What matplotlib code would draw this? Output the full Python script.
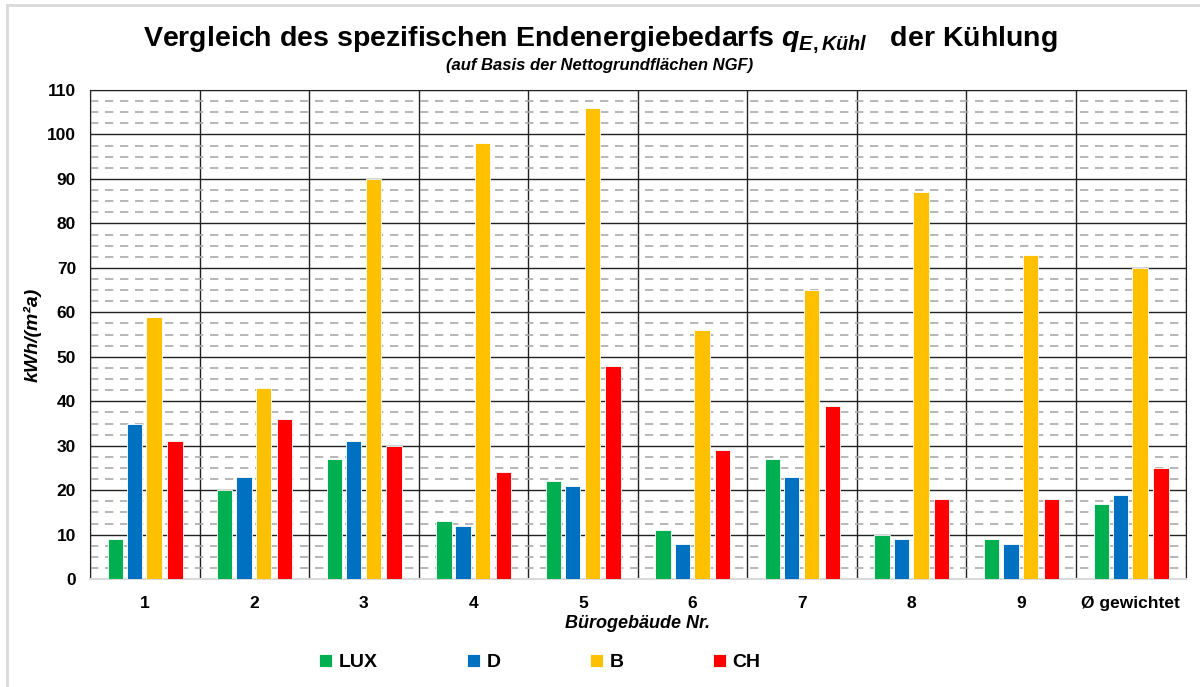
import matplotlib.pyplot as plt
import numpy as np
from matplotlib.ticker import MultipleLocator
from matplotlib.patches import Rectangle

plt.rcParams['font.family'] = ['Liberation Sans', 'DejaVu Sans']
plt.rcParams['mathtext.fontset'] = 'custom'
plt.rcParams['mathtext.it'] = 'Liberation Sans:italic:bold'
plt.rcParams['mathtext.rm'] = 'Liberation Sans:bold'

categories = ["1", "2", "3", "4", "5", "6", "7", "8", "9", "Ø gewichtet"]
lux = [9, 20, 27, 13, 22, 11, 27, 10, 9, 17]
d = [35, 23, 31, 12, 21, 8, 23, 9, 8, 19]
b = [59, 43, 90, 98, 106, 56, 65, 87, 73, 70]
ch = [31, 36, 30, 24, 48, 29, 39, 18, 18, 25]
series = [("LUX", lux, "#00b050"), ("D", d, "#0070c0"),
          ("B", b, "#ffc000"), ("CH", ch, "#ff0000")]

fig = plt.figure(figsize=(12, 6.87), dpi=100)
ax = fig.add_axes([0.075, 0.157, 0.913, 0.712])

x = np.arange(len(categories))
offsets = [-0.27, -0.095, 0.085, 0.275]
for (name, vals, col), off in zip(series, offsets):
    ax.bar(x + off, vals, width=0.14, color=col, edgecolor="white",
           linewidth=0.6, label=name, zorder=3)

ax.set_xlim(-0.5, len(categories) - 0.5)
ax.set_ylim(0, 110)
ax.yaxis.set_major_locator(MultipleLocator(10))
ax.yaxis.set_minor_locator(MultipleLocator(2.5))
ax.set_xticks(x)
ax.set_xticklabels(categories)
ax.set_xticks(np.arange(len(categories) + 1) - 0.5, minor=True)

ax.grid(which="major", axis="y", color="#222222", linewidth=1.0, zorder=1)
ax.grid(which="minor", axis="y", color="#aaaaaa", linewidth=1.2,
        linestyle=(0, (5, 4)), zorder=1)
ax.grid(which="minor", axis="x", color="#222222", linewidth=1.0, zorder=1)

ax.tick_params(axis="both", which="both", length=0)
ax.tick_params(axis="y", labelsize=12.5, pad=10)
ax.tick_params(axis="x", labelsize=12.5, pad=12)
for lab in ax.get_xticklabels() + ax.get_yticklabels():
    lab.set_fontweight("bold")

for s in ["top", "right", "left"]:
    ax.spines[s].set_color("#222222")
ax.spines["bottom"].set_color("#d9d9d9")
ax.spines["bottom"].set_linewidth(1.5)

ax.set_ylabel("kWh/(m²a)", fontsize=14, fontweight="bold", fontstyle="italic",
              labelpad=4)
ax.set_xlabel("Bürogebäude Nr.", fontsize=13, fontweight="bold",
              fontstyle="italic", labelpad=3)

fig.text(0.5, 0.942, r"Vergleich des spezifischen Endenergiebedarfs $q_{E,Kühl}$   der Kühlung",
         ha="center", va="center", fontsize=20.5, fontweight="bold")
fig.text(0.5, 0.905, "(auf Basis der Nettogrundflächen NGF)", ha="center",
         va="center", fontsize=12, fontweight="bold", fontstyle="italic")

leg = fig.legend(loc="center", bbox_to_anchor=(0.45, 0.036), ncol=4, frameon=False,
                 prop={"size": 14, "weight": "bold"}, handlelength=0.65,
                 handleheight=0.65, handletextpad=0.35, columnspacing=4.6)

fig.patches.append(Rectangle((0.006, -0.01), 1.0, 1.003, transform=fig.transFigure,
                             fill=False, edgecolor="#d9d9d9", linewidth=2))

fig.savefig("out.png", dpi=100)
